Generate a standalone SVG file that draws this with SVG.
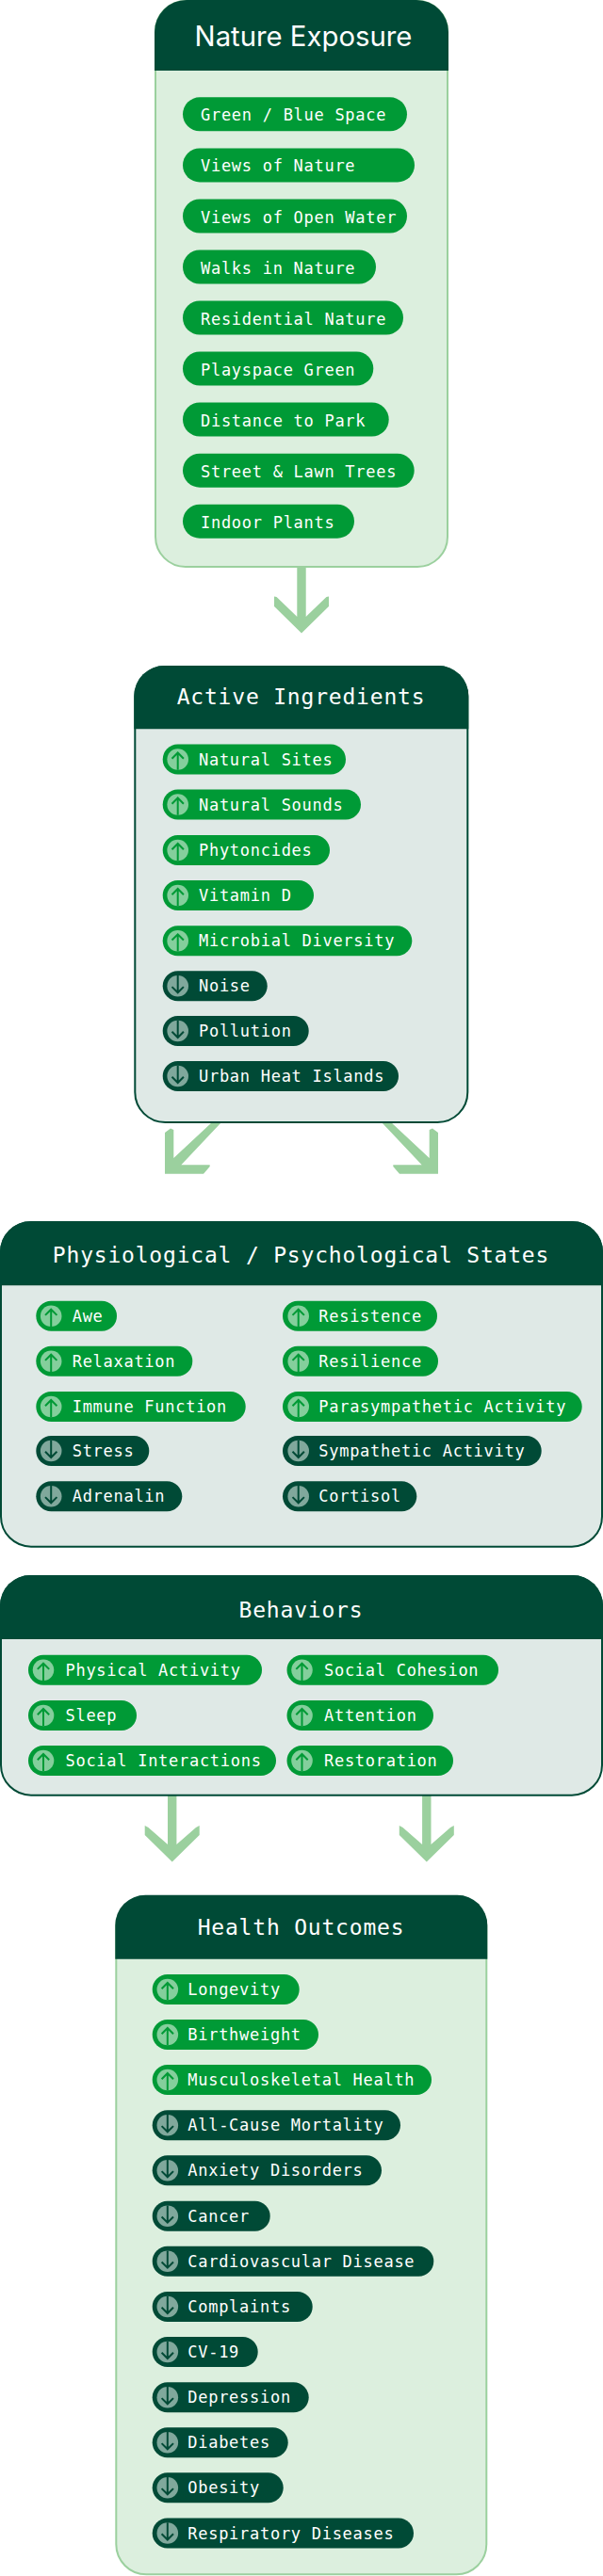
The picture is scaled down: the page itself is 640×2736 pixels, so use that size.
<svg xmlns="http://www.w3.org/2000/svg" xmlns:xlink="http://www.w3.org/1999/xlink" width="640" height="2736" viewBox="0 0 640 2736">
<style>
.bg{fill:#fff}
.boxg{fill:#dcefde;stroke:#9bd09e;stroke-width:2}
.boxd{fill:#dfe9e6;stroke:#004a36;stroke-width:2}
.head{fill:#004a36}
.title{font-family:"DejaVu Sans Mono",monospace;font-size:23px;letter-spacing:.8px;fill:#fff;text-anchor:middle}
.titlesans{font-family:Inter,"Liberation Sans",sans-serif;font-size:29.3px;fill:#fff;text-anchor:middle}
.up{fill:#009a36}
.down{fill:#004a36}
.t{font-family:"DejaVu Sans Mono",monospace;font-size:17px;letter-spacing:.72px;fill:#fff}
.arrow{fill:#9bd09e}
.iu{stroke:#009a36;stroke-width:2;fill:none}
.id{stroke:#004a36;stroke-width:2;fill:none}
</style>
<defs>
<g id="iconUp"><circle r="11.3" fill="#84cf9c"/><path class="iu" d="M0 11.3V-7M-6.2-.8 0-7 6.2-.8"/></g>
<g id="iconDown"><circle r="11.3" fill="#80a89c"/><path class="id" d="M0-11.3V7M-6.2 .8 0 7 6.2 .8"/></g>
</defs>
<rect class="bg" width="640" height="2736"/>
<g id="connectors">
<polygon class="arrow" points="315.3,602 324.7,602 324.7,655 346.5,634 349,633.5 349,644 320,672.5 291,644 291,633.5 293.5,634 315.3,655"/>
<polygon class="arrow" points="225,1192 235,1192 192.3,1237.3 222.7,1237.3 222.7,1239 216,1246.7 175,1246.7 175,1203 181,1198.5 184.3,1200 184.3,1230"/>
<polygon class="arrow" points="415,1192 405,1192 447.7,1237.3 417.3,1237.3 417.3,1239 424,1246.7 465,1246.7 465,1203 459,1198.5 455.7,1200 455.7,1230"/>
<polygon class="arrow" points="178,1906 187.4,1906 187.4,1959 208,1941 211.7,1939 211.7,1949 182.7,1977.5 153.7,1949 153.7,1939 157.4,1941 178,1959"/>
<polygon class="arrow" points="448.1,1906 457.5,1906 457.5,1959 478.1,1941 481.8,1939 481.8,1949 452.8,1977.5 423.8,1949 423.8,1939 427.5,1941 448.1,1959"/>
</g>

<g id="nature-exposure">
<rect class="boxg" x="165" y="1" width="310" height="601" rx="32"/>
<path class="head" d="M164 75V34A34 34 0 0 1 198 0H442A34 34 0 0 1 476 34V75Z"/>
<text class="titlesans" x="322" y="49.3">Nature Exposure</text>
<g id="n1"><rect class="up" x="194" y="103.3" width="238" height="36" rx="18"/><text class="t" x="213" y="128.3">Green / Blue Space</text></g>
<g id="n2"><rect class="up" x="194" y="157.4" width="246" height="36" rx="18"/><text class="t" x="213" y="182.4">Views of Nature</text></g>
<g id="n3"><rect class="up" x="194" y="211.5" width="238" height="36" rx="18"/><text class="t" x="213" y="236.5">Views of Open Water</text></g>
<g id="n4"><rect class="up" x="194" y="265.5" width="205" height="36" rx="18"/><text class="t" x="213" y="290.5">Walks in Nature</text></g>
<g id="n5"><rect class="up" x="194" y="319.5" width="234" height="36" rx="18"/><text class="t" x="213" y="344.5">Residential Nature</text></g>
<g id="n6"><rect class="up" x="194" y="373.5" width="202.3" height="36" rx="18"/><text class="t" x="213" y="398.5">Playspace Green</text></g>
<g id="n7"><rect class="up" x="194" y="427.5" width="218.7" height="36" rx="18"/><text class="t" x="213" y="452.5">Distance to Park</text></g>
<g id="n8"><rect class="up" x="194" y="481.7" width="245.7" height="36" rx="18"/><text class="t" x="213" y="506.7">Street &amp; Lawn Trees</text></g>
<g id="n9"><rect class="up" x="194" y="535.7" width="182" height="36" rx="18"/><text class="t" x="213" y="560.7">Indoor Plants</text></g>
</g>

<g id="active-ingredients">
<rect class="boxd" x="143.3" y="708" width="353" height="484" rx="32"/>
<path class="head" d="M142.3 774.3V739A32 32 0 0 1 174.3 707H465.3A32 32 0 0 1 497.3 739V774.3Z"/>
<text class="title" x="319.5" y="748">Active Ingredients</text>
<g id="a1"><rect class="up" x="172.7" y="790.5" width="194.3" height="32" rx="16"/><use href="#iconUp" x="188.7" y="806.5"/><text class="t" x="211" y="812.5">Natural Sites</text></g>
<g id="a2"><rect class="up" x="172.7" y="838.5" width="210.3" height="32" rx="16"/><use href="#iconUp" x="188.7" y="854.5"/><text class="t" x="211" y="860.5">Natural Sounds</text></g>
<g id="a3"><rect class="up" x="172.7" y="887" width="177.3" height="32" rx="16"/><use href="#iconUp" x="188.7" y="903"/><text class="t" x="211" y="909">Phytoncides</text></g>
<g id="a4"><rect class="up" x="172.7" y="935" width="160.3" height="32" rx="16"/><use href="#iconUp" x="188.7" y="951"/><text class="t" x="211" y="957">Vitamin D</text></g>
<g id="a5"><rect class="up" x="172.7" y="983.3" width="264.6" height="32" rx="16"/><use href="#iconUp" x="188.7" y="999.3"/><text class="t" x="211" y="1005.3">Microbial Diversity</text></g>
<g id="a6"><rect class="down" x="172.7" y="1031.3" width="111" height="32" rx="16"/><use href="#iconDown" x="188.7" y="1047.3"/><text class="t" x="211" y="1053.3">Noise</text></g>
<g id="a7"><rect class="down" x="172.7" y="1079" width="155" height="32" rx="16"/><use href="#iconDown" x="188.7" y="1095"/><text class="t" x="211" y="1101">Pollution</text></g>
<g id="a8"><rect class="down" x="172.7" y="1127" width="250.3" height="32" rx="16"/><use href="#iconDown" x="188.7" y="1143"/><text class="t" x="211" y="1149">Urban Heat Islands</text></g>
</g>

<g id="physio-states">
<rect class="boxd" x="1" y="1298" width="638" height="344.7" rx="32"/>
<path class="head" d="M0 1365.3V1329.3A32 32 0 0 1 32 1297.3H608A32 32 0 0 1 640 1329.3V1365.3Z"/>
<text class="title" x="319.5" y="1341">Physiological / Psychological States</text>
<g id="p1"><rect class="up" x="38.3" y="1381.7" width="85.7" height="32" rx="16"/><use href="#iconUp" x="54.2" y="1397.7"/><text class="t" x="76.7" y="1403.7">Awe</text></g>
<g id="p2"><rect class="up" x="38.3" y="1429.7" width="166" height="32" rx="16"/><use href="#iconUp" x="54.2" y="1445.7"/><text class="t" x="76.7" y="1451.7">Relaxation</text></g>
<g id="p3"><rect class="up" x="38.3" y="1478" width="222.4" height="32" rx="16"/><use href="#iconUp" x="54.2" y="1494"/><text class="t" x="76.7" y="1500">Immune Function</text></g>
<g id="p4"><rect class="down" x="38.3" y="1525" width="120" height="32" rx="16"/><use href="#iconDown" x="54.2" y="1541"/><text class="t" x="76.7" y="1547">Stress</text></g>
<g id="p5"><rect class="down" x="38.3" y="1573.3" width="155" height="32" rx="16"/><use href="#iconDown" x="54.2" y="1589.3"/><text class="t" x="76.7" y="1595.3">Adrenalin</text></g>
<g id="p6"><rect class="up" x="300" y="1381.7" width="164" height="32" rx="16"/><use href="#iconUp" x="316.7" y="1397.7"/><text class="t" x="338.3" y="1403.7">Resistence</text></g>
<g id="p7"><rect class="up" x="300" y="1429.7" width="165" height="32" rx="16"/><use href="#iconUp" x="316.7" y="1445.7"/><text class="t" x="338.3" y="1451.7">Resilience</text></g>
<g id="p8"><rect class="up" x="300" y="1478" width="317.7" height="32" rx="16"/><use href="#iconUp" x="316.7" y="1494"/><text class="t" x="338.3" y="1500">Parasympathetic Activity</text></g>
<g id="p9"><rect class="down" x="300" y="1525" width="274.7" height="32" rx="16"/><use href="#iconDown" x="316.7" y="1541"/><text class="t" x="338.3" y="1547">Sympathetic Activity</text></g>
<g id="p10"><rect class="down" x="300" y="1573.3" width="142.3" height="32" rx="16"/><use href="#iconDown" x="316.7" y="1589.3"/><text class="t" x="338.3" y="1595.3">Cortisol</text></g>
</g>

<g id="behaviors">
<rect class="boxd" x="1" y="1674" width="638" height="232.7" rx="32"/>
<path class="head" d="M0 1741V1705A32 32 0 0 1 32 1673H608A32 32 0 0 1 640 1705V1741Z"/>
<text class="title" x="319.5" y="1718">Behaviors</text>
<g id="b1"><rect class="up" x="30" y="1757.7" width="248" height="32" rx="16"/><use href="#iconUp" x="46" y="1773.7"/><text class="t" x="69.5" y="1779.7">Physical Activity</text></g>
<g id="b2"><rect class="up" x="30" y="1806" width="115" height="32" rx="16"/><use href="#iconUp" x="46" y="1822"/><text class="t" x="69.5" y="1828">Sleep</text></g>
<g id="b3"><rect class="up" x="30" y="1854" width="263" height="32" rx="16"/><use href="#iconUp" x="46" y="1870"/><text class="t" x="69.5" y="1876">Social Interactions</text></g>
<g id="b4"><rect class="up" x="304.5" y="1757.7" width="224.5" height="32" rx="16"/><use href="#iconUp" x="320.5" y="1773.7"/><text class="t" x="344" y="1779.7">Social Cohesion</text></g>
<g id="b5"><rect class="up" x="304.5" y="1806" width="155.5" height="32" rx="16"/><use href="#iconUp" x="320.5" y="1822"/><text class="t" x="344" y="1828">Attention</text></g>
<g id="b6"><rect class="up" x="304.5" y="1854" width="176.5" height="32" rx="16"/><use href="#iconUp" x="320.5" y="1870"/><text class="t" x="344" y="1876">Restoration</text></g>
</g>

<g id="health-outcomes">
<rect class="boxg" x="123.3" y="2014" width="393" height="720.3" rx="32"/>
<path class="head" d="M122.3 2080.7V2044.7A32 32 0 0 1 154.3 2012.7H485.3A32 32 0 0 1 517.3 2044.7V2080.7Z"/>
<text class="title" x="319.5" y="2055">Health Outcomes</text>
<g id="h1"><rect class="up" x="161.7" y="2097" width="156" height="32" rx="16"/><use href="#iconUp" x="177.8" y="2113"/><text class="t" x="199.3" y="2119">Longevity</text></g>
<g id="h2"><rect class="up" x="161.7" y="2145" width="176.3" height="32" rx="16"/><use href="#iconUp" x="177.8" y="2161"/><text class="t" x="199.3" y="2167">Birthweight</text></g>
<g id="h3"><rect class="up" x="161.7" y="2193" width="296.3" height="32" rx="16"/><use href="#iconUp" x="177.8" y="2209"/><text class="t" x="199.3" y="2215">Musculoskeletal Health</text></g>
<g id="h4"><rect class="down" x="161.7" y="2241.3" width="263.3" height="32" rx="16"/><use href="#iconDown" x="177.8" y="2257.3"/><text class="t" x="199.3" y="2263.3">All-Cause Mortality</text></g>
<g id="h5"><rect class="down" x="161.7" y="2289.3" width="243.3" height="32" rx="16"/><use href="#iconDown" x="177.8" y="2305.3"/><text class="t" x="199.3" y="2311.3">Anxiety Disorders</text></g>
<g id="h6"><rect class="down" x="161.7" y="2337.7" width="125" height="32" rx="16"/><use href="#iconDown" x="177.8" y="2353.7"/><text class="t" x="199.3" y="2359.7">Cancer</text></g>
<g id="h7"><rect class="down" x="161.7" y="2385.7" width="298.6" height="32" rx="16"/><use href="#iconDown" x="177.8" y="2401.7"/><text class="t" x="199.3" y="2407.7">Cardiovascular Disease</text></g>
<g id="h8"><rect class="down" x="161.7" y="2434" width="170" height="32" rx="16"/><use href="#iconDown" x="177.8" y="2450"/><text class="t" x="199.3" y="2456">Complaints</text></g>
<g id="h9"><rect class="down" x="161.7" y="2482" width="112" height="32" rx="16"/><use href="#iconDown" x="177.8" y="2498"/><text class="t" x="199.3" y="2504">CV-19</text></g>
<g id="h10"><rect class="down" x="161.7" y="2530.3" width="166" height="32" rx="16"/><use href="#iconDown" x="177.8" y="2546.3"/><text class="t" x="199.3" y="2552.3">Depression</text></g>
<g id="h11"><rect class="down" x="161.7" y="2578.3" width="144" height="32" rx="16"/><use href="#iconDown" x="177.8" y="2594.3"/><text class="t" x="199.3" y="2600.3">Diabetes</text></g>
<g id="h12"><rect class="down" x="161.7" y="2626.3" width="139" height="32" rx="16"/><use href="#iconDown" x="177.8" y="2642.3"/><text class="t" x="199.3" y="2648.3">Obesity</text></g>
<g id="h13"><rect class="down" x="161.7" y="2674.5" width="277.3" height="32" rx="16"/><use href="#iconDown" x="177.8" y="2690.5"/><text class="t" x="199.3" y="2696.5">Respiratory Diseases</text></g>
</g>
</svg>
